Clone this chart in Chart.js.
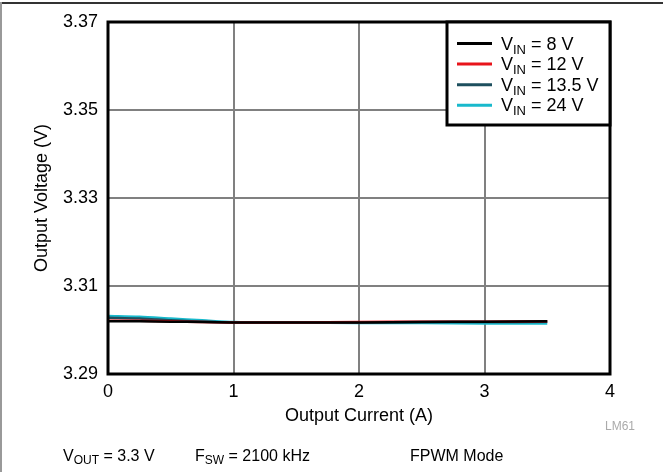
<!DOCTYPE html>
<html>
<head>
<meta charset="utf-8">
<script src="https://cdn.jsdelivr.net/npm/chart.js@4/dist/chart.umd.min.js"></script>
<style>
html,body{margin:0;padding:0;background:#fff;}
#wrap{position:relative;width:663px;height:472px;}
canvas{display:block;}
</style>
</head>
<body>
<div id="wrap"><canvas id="c" width="663" height="472"></canvas></div>
<script>
// ---- data ----
const currents = [0, 0.25, 0.5, 0.75, 1, 1.5, 2, 2.5, 3, 3.5];
const vin8   = [3.3020, 3.3020, 3.3019, 3.3018, 3.3017, 3.3017, 3.3017, 3.3018, 3.3019, 3.3020];
const vin12  = [3.3021, 3.3021, 3.3020, 3.3018, 3.3017, 3.3017, 3.3018, 3.3019, 3.3019, 3.3020];
const vin135 = [3.3028, 3.3026, 3.3022, 3.3019, 3.3017, 3.3017, 3.3017, 3.3018, 3.3018, 3.3019];
const vin24  = [3.3032, 3.3030, 3.3026, 3.3022, 3.3018, 3.3017, 3.3016, 3.3016, 3.3015, 3.3015];
const seriesValues = ['8 V', '12 V', '13.5 V', '24 V'];
const xTicks = [0, 1, 2, 3, 4];
const yTicks = [3.29, 3.31, 3.33, 3.35, 3.37];
const xTitle = 'Output Current (A)';
const yTitle = 'Output Voltage (V)';
const notes = [['V', 'OUT', ' = 3.3 V'], ['F', 'SW', ' = 2100 kHz'], ['FPWM Mode', '', '']];
const docId = 'LM61';

const colors = ['#000000', '#e8141b', '#1d4f5e', '#18b9cc'];
const FONT = '"Liberation Sans", Arial, Helvetica, sans-serif';

function pts(ys) { return currents.map((x, i) => ({x: x, y: ys[i]})); }
const allSeries = [vin8, vin12, vin135, vin24];

function drawSub(ctx, x, y, main, sub, rest, size, subSize, subDrop) {
  ctx.font = size + 'px ' + FONT;
  ctx.fillText(main, x, y);
  x += ctx.measureText(main).width;
  if (sub) {
    ctx.font = subSize + 'px ' + FONT;
    ctx.fillText(sub, x, y + subDrop);
    x += ctx.measureText(sub).width;
  }
  if (rest) {
    ctx.font = size + 'px ' + FONT;
    ctx.fillText(rest, x, y);
    x += ctx.measureText(rest).width;
  }
  return x;
}

const decor = {
  id: 'decor',
  beforeDraw(chart) {
    const ctx = chart.ctx;
    ctx.save();
    ctx.fillStyle = '#fff';
    ctx.fillRect(0, 0, chart.width, chart.height);
    // outer figure frame
    ctx.fillStyle = '#333';
    ctx.fillRect(0, 2, chart.width, 2);
    ctx.fillStyle = '#999';
    ctx.fillRect(0, 2, 2, chart.height);
    ctx.restore();
  },
  afterDraw(chart) {
    const ctx = chart.ctx;
    const a = chart.chartArea;
    ctx.save();
    // plot frame
    ctx.strokeStyle = '#000';
    ctx.lineWidth = 3;
    ctx.strokeRect(a.left, a.top, a.right - a.left, a.bottom - a.top);
    // legend
    const lx = 447, ly = a.top, lw = a.right - lx, lh = 103;
    ctx.fillStyle = '#fff';
    ctx.fillRect(lx, ly, lw, lh);
    ctx.strokeRect(lx, ly, lw, lh);
    ctx.textBaseline = 'alphabetic';
    chart.data.datasets.forEach((ds, i) => {
      const cy = 43.5 + i * 20.6;
      ctx.strokeStyle = ds.borderColor;
      ctx.lineWidth = 3;
      ctx.beginPath();
      ctx.moveTo(457, cy);
      ctx.lineTo(492, cy);
      ctx.stroke();
      ctx.fillStyle = '#000';
      drawSub(ctx, 501, cy + 6, 'V', 'IN', ' = ' + seriesValues[i], 18, 13, 4);
    });
    // bottom notes
    ctx.fillStyle = '#000';
    const nx = [63, 195, 410];
    notes.forEach((n, i) => drawSub(ctx, nx[i], 461, n[0], n[1], n[2], 16, 12, 3));
    // document id
    ctx.fillStyle = '#aaa';
    ctx.font = '12px ' + FONT;
    ctx.fillText(docId, 605, 430);
    ctx.restore();
  }
};

new Chart(document.getElementById('c'), {
  type: 'line',
  data: {
    datasets: allSeries.map((s, i) => ({
      label: 'VIN = ' + seriesValues[i],
      data: pts(s),
      borderColor: colors[i],
      backgroundColor: colors[i],
      borderWidth: 2.5,
      pointRadius: 0,
      tension: 0.3,
      fill: false
    }))
  },
  options: {
    responsive: false,
    animation: false,
    devicePixelRatio: 1,
    layout: {padding: {left: 0, top: 22, right: 53, bottom: 45}},
    plugins: {legend: {display: false}, tooltip: {enabled: false}},
    scales: {
      x: {
        type: 'linear', min: 0, max: 4,
        afterFit(s) { s.height = 53; },
        afterBuildTicks(s) { s.ticks = xTicks.map(v => ({value: v})); },
        grid: {color: '#808080', lineWidth: 2, drawTicks: false},
        border: {display: false},
        ticks: {color: '#000', font: {family: FONT, size: 18}, padding: 7,
                callback: v => String(v)},
        title: {display: true, text: xTitle, color: '#000',
                font: {family: FONT, size: 18}, padding: {top: 0, bottom: 0}}
      },
      y: {
        type: 'linear', min: 3.29, max: 3.37,
        afterFit(s) { s.width = 108; },
        afterBuildTicks(s) { s.ticks = yTicks.map(v => ({value: v})); },
        grid: {color: '#808080', lineWidth: 2, drawTicks: false},
        border: {display: false},
        ticks: {color: '#000', font: {family: FONT, size: 18}, padding: 10,
                callback: v => Number(v).toFixed(2)},
        title: {display: true, text: yTitle, color: '#000',
                font: {family: FONT, size: 18}, padding: {top: 31, bottom: 0}}
      }
    }
  },
  plugins: [decor]
});
</script>
</body>
</html>
